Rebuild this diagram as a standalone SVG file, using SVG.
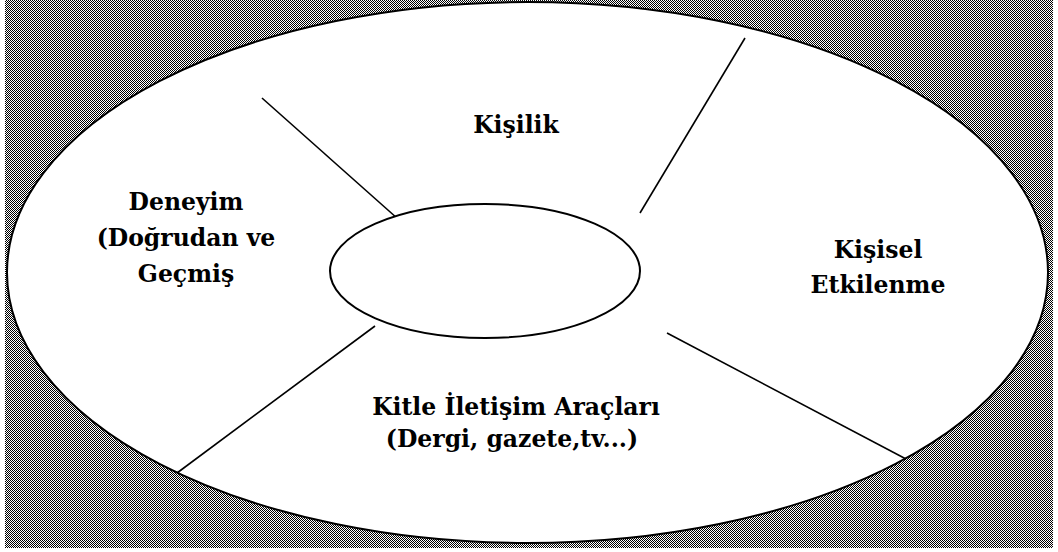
<svg xmlns="http://www.w3.org/2000/svg" width="1058" height="552" viewBox="0 0 1058 552">
  <defs>
    <pattern id="dither" x="0" y="0" width="2" height="2" patternUnits="userSpaceOnUse">
      <rect x="0" y="0" width="2" height="2" fill="#ffffff"/>
      <rect x="0" y="0" width="1" height="1" fill="#000000"/>
      <rect x="1" y="1" width="1" height="1" fill="#000000"/>
    </pattern>
  </defs>
  <style>
    .shape { fill: #ffffff; stroke: #000000; stroke-width: 2; }
    .conn { stroke: #000000; stroke-width: 1.6; fill: none; }
    .lbl { font-family: "DejaVu Serif", "Liberation Serif", serif; font-weight: bold; font-size: 23.5px; fill: #000000; text-anchor: middle; }
  </style>
  <rect x="0" y="0" width="1058" height="552" fill="#ffffff"/>
  <rect x="5" y="0" width="1048" height="548" fill="url(#dither)"/>

  <g id="outer">
    <ellipse class="shape" cx="527.5" cy="272.5" rx="520.5" ry="270.5"/>
  </g>

  <g id="connectors">
    <line class="conn" x1="262" y1="98" x2="398" y2="219"/>
    <line class="conn" x1="745" y1="38" x2="640" y2="213"/>
    <line class="conn" x1="375" y1="326" x2="177" y2="473"/>
    <line class="conn" x1="667" y1="333" x2="906" y2="459"/>
  </g>

  <g id="center">
    <ellipse class="shape" cx="485" cy="271" rx="155" ry="67"/>
  </g>

  <g id="kisilik">
    <text class="lbl" x="516" y="133">Kişilik</text>
  </g>
  <g id="deneyim">
    <text class="lbl" x="186" y="210">Deneyim</text>
    <text class="lbl" x="186" y="246">(Doğrudan ve</text>
    <text class="lbl" x="186" y="282">Geçmiş</text>
  </g>
  <g id="kisisel">
    <text class="lbl" x="878" y="258">Kişisel</text>
    <text class="lbl" x="878" y="293">Etkilenme</text>
  </g>
  <g id="kitle">
    <text class="lbl" x="516" y="415">Kitle İletişim Araçları</text>
    <text class="lbl" x="512" y="447">(Dergi, gazete,tv...)</text>
  </g>
</svg>
